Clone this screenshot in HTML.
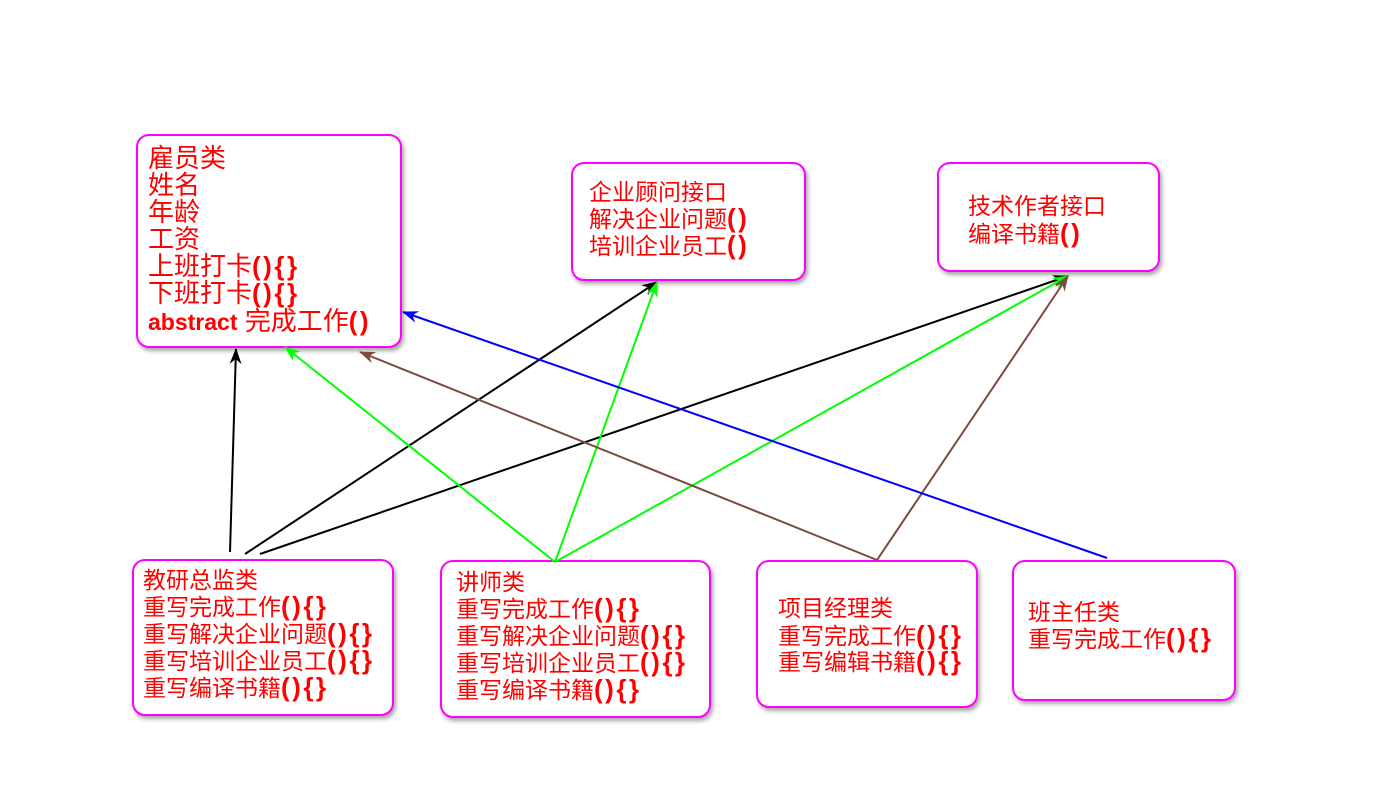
<!DOCTYPE html>
<html><head><meta charset="utf-8"><style>
body{margin:0;background:#fff}
svg{display:block}
text{font-family:"Liberation Sans","Noto Sans CJK SC",sans-serif;fill:#f00;font-size:23px}
text.e{font-size:26px}
.b{font-weight:bold;font-size:26px;letter-spacing:2.5px}
</style></head><body>
<svg width="1381" height="803" viewBox="0 0 1381 803">
<defs>
<filter id="sh" x="-10%" y="-10%" width="130%" height="130%"><feDropShadow dx="2" dy="3" stdDeviation="2" flood-color="#000" flood-opacity="0.35"/></filter>
<marker id="ak" markerWidth="16" markerHeight="12" refX="15" refY="6" orient="auto" markerUnits="userSpaceOnUse"><path d="M0,0 L16,6 L0,12 L5,6z" fill="#000"/></marker>
<marker id="ag" markerWidth="16" markerHeight="12" refX="15" refY="6" orient="auto" markerUnits="userSpaceOnUse"><path d="M0,0 L16,6 L0,12 L5,6z" fill="#0f0"/></marker>
<marker id="ar" markerWidth="16" markerHeight="12" refX="15" refY="6" orient="auto" markerUnits="userSpaceOnUse"><path d="M0,0 L16,6 L0,12 L5,6z" fill="#7b4a40"/></marker>
<marker id="ab" markerWidth="16" markerHeight="12" refX="15" refY="6" orient="auto" markerUnits="userSpaceOnUse"><path d="M0,0 L16,6 L0,12 L5,6z" fill="#00f"/></marker>
</defs>
<g fill="#fff" stroke="#f0f" stroke-width="2" filter="url(#sh)">
<rect x="137" y="135" width="264" height="212" rx="12"/>
<rect x="572" y="163" width="233" height="117" rx="12"/>
<rect x="938" y="163" width="221" height="108" rx="12"/>
<rect x="133" y="560" width="260" height="155" rx="12"/>
<rect x="441" y="561" width="269" height="156" rx="12"/>
<rect x="757" y="561" width="220" height="146" rx="12"/>
<rect x="1013" y="561" width="222" height="139" rx="12"/>
</g>
<g stroke-width="2" fill="none">
<line x1="230" y1="552" x2="236" y2="349" stroke="#000" marker-end="url(#ak)"/>
<line x1="245" y1="554" x2="657" y2="282" stroke="#000" marker-end="url(#ak)"/>
<line x1="260" y1="554" x2="1068" y2="276" stroke="#000" marker-end="url(#ak)"/>
<line x1="555" y1="562" x2="285" y2="347" stroke="#0f0" marker-end="url(#ag)"/>
<line x1="555" y1="562" x2="657" y2="282" stroke="#0f0" marker-end="url(#ag)"/>
<line x1="555" y1="562" x2="1068" y2="276" stroke="#0f0" marker-end="url(#ag)"/>
<line x1="877" y1="560" x2="360" y2="352" stroke="#7b4a40" marker-end="url(#ar)"/>
<line x1="877" y1="560" x2="1068" y2="276" stroke="#7b4a40" marker-end="url(#ar)"/>
<line x1="1107" y1="558" x2="403" y2="312" stroke="#00f" marker-end="url(#ab)"/>
</g>
<text class="e" x="148" y="167">雇员类</text>
<text class="e" x="148" y="194">姓名</text>
<text class="e" x="148" y="221">年龄</text>
<text class="e" x="148" y="248">工资</text>
<text class="e" x="148" y="275">上班打卡<tspan class="b">(){}</tspan></text>
<text class="e" x="148" y="302">下班打卡<tspan class="b">(){}</tspan></text>
<text class="e" x="148" y="330"><tspan style="font-weight:bold;font-size:23px">abstract</tspan> 完成工作<tspan class="b">()</tspan></text>
<text x="589" y="200">企业顾问接口</text>
<text x="589" y="227">解决企业问题<tspan class="b">()</tspan></text>
<text x="589" y="254">培训企业员工<tspan class="b">()</tspan></text>
<text x="968" y="214">技术作者接口</text>
<text x="968" y="242">编译书籍<tspan class="b">()</tspan></text>
<text x="143" y="588">教研总监类</text>
<text x="143" y="615">重写完成工作<tspan class="b">(){}</tspan></text>
<text x="143" y="642">重写解决企业问题<tspan class="b">(){}</tspan></text>
<text x="143" y="669">重写培训企业员工<tspan class="b">(){}</tspan></text>
<text x="143" y="696">重写编译书籍<tspan class="b">(){}</tspan></text>
<text x="456" y="590">讲师类</text>
<text x="456" y="617">重写完成工作<tspan class="b">(){}</tspan></text>
<text x="456" y="644">重写解决企业问题<tspan class="b">(){}</tspan></text>
<text x="456" y="671">重写培训企业员工<tspan class="b">(){}</tspan></text>
<text x="456" y="698">重写编译书籍<tspan class="b">(){}</tspan></text>
<text x="778" y="616">项目经理类</text>
<text x="778" y="644">重写完成工作<tspan class="b">(){}</tspan></text>
<text x="778" y="670">重写编辑书籍<tspan class="b">(){}</tspan></text>
<text x="1028" y="620">班主任类</text>
<text x="1028" y="647">重写完成工作<tspan class="b">(){}</tspan></text>
</svg>
</body></html>
